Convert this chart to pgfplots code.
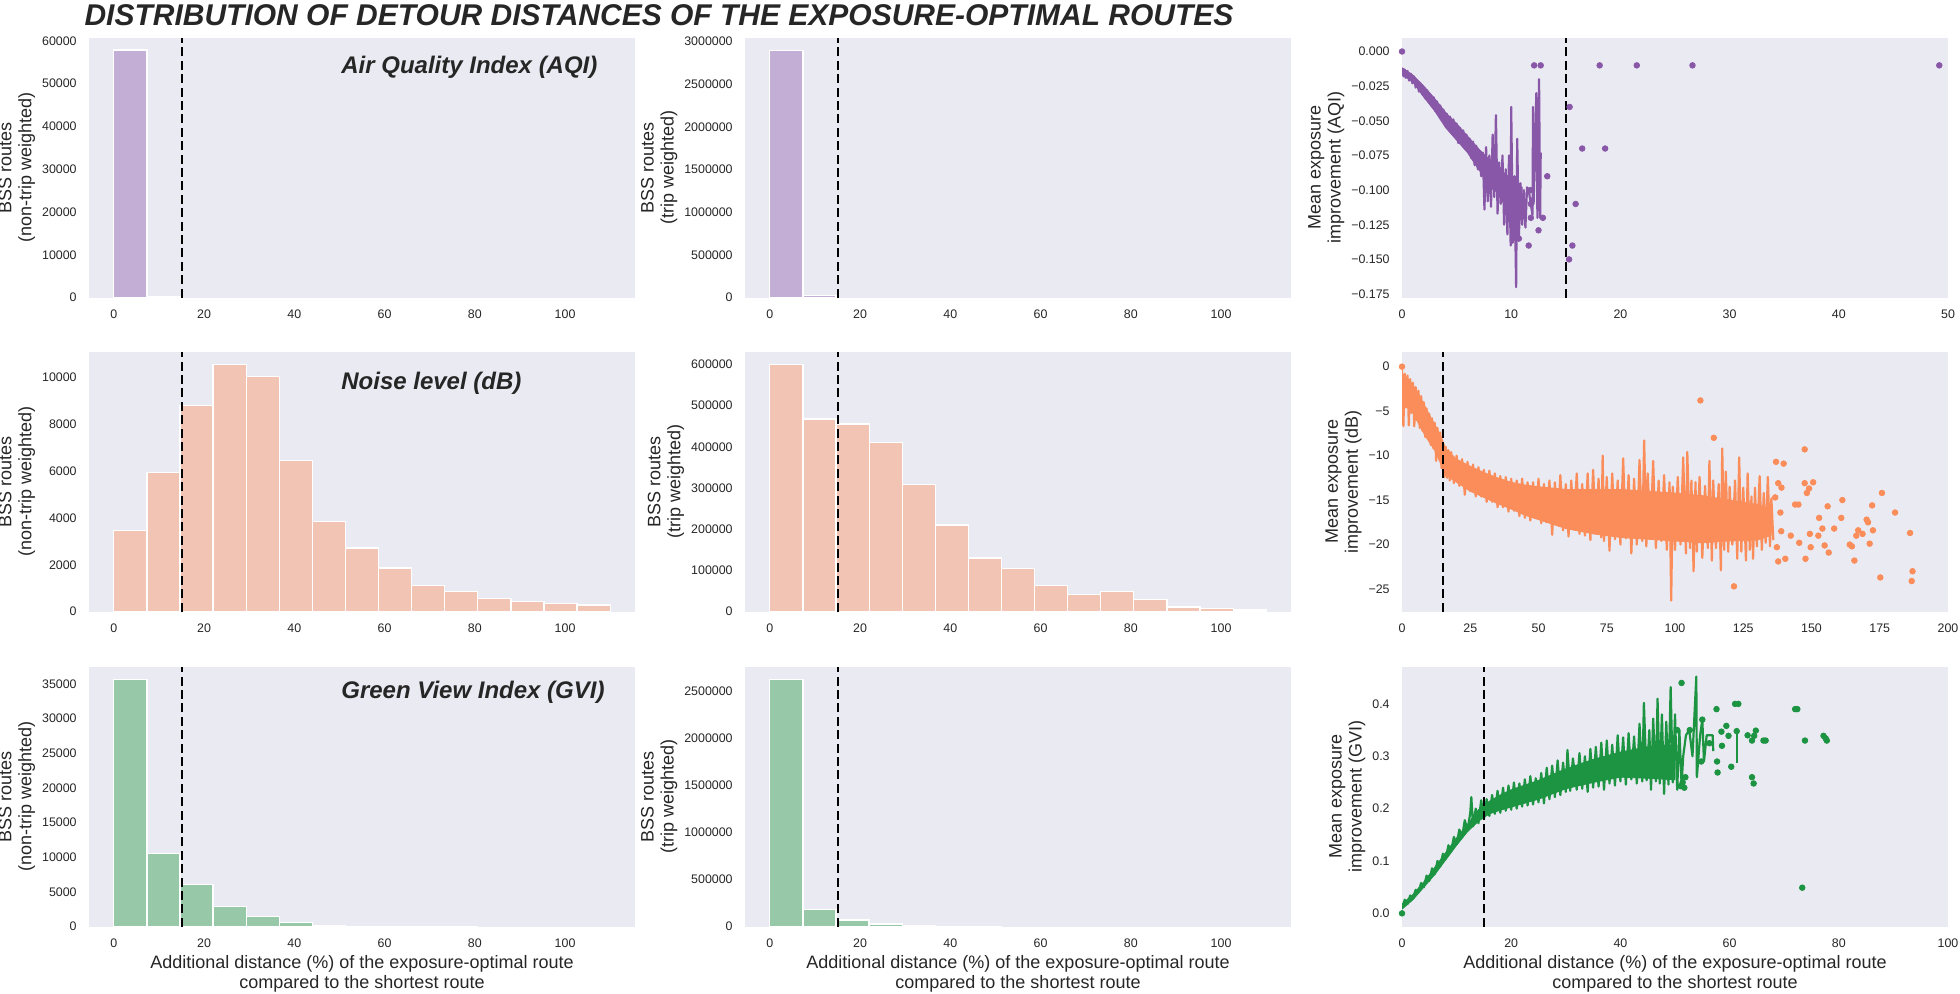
\documentclass[border=0pt]{standalone}
\usepackage{fontspec}
\setmainfont{Liberation Sans}
\usepackage{pgfplots}
\pgfplotsset{compat=1.18}

\definecolor{bg}{RGB}{234,234,242}
\definecolor{txt}{RGB}{38,38,38}
\definecolor{aqibar}{RGB}{195,174,214}
\definecolor{noisebar}{RGB}{242,196,180}
\definecolor{gvibar}{RGB}{151,201,169}
\definecolor{aqiline}{RGB}{137,87,168}
\definecolor{noiseline}{RGB}{250,141,90}
\definecolor{gviline}{RGB}{28,148,66}

\newcommand\ticksize{\fontsize{6.2}{7}\selectfont}
\newcommand\labelsize{\fontsize{9}{10}\selectfont}

\tikzset{annot/.style={anchor=base west, font=\fontsize{12}{14}\selectfont\bfseries\itshape, text=txt, inner sep=0pt}}

\pgfplotsset{
  panel/.style={
    scale only axis, width=273pt, height=130pt, anchor=north west,
    axis background/.style={fill=bg},
    axis line style={draw=none},
    major tick length=0pt,
    tick label style={font=\ticksize, color=txt, inner sep=0pt},
    yticklabel style={xshift=-6pt},
    xticklabel style={yshift=-6pt},
    label style={font=\labelsize, color=txt, align=center},
    scaled ticks=false,
    /pgf/number format/fixed,
    /pgf/number format/1000 sep={},
    /pgf/number format/assume math mode=true,
  },
  hist/.style={ybar, bar width=7.3333, bar shift=0pt, draw=white, line width=0.6pt, mark=none},
  vline/.style={black, line width=1pt, dash pattern=on 4.5pt off 2.2pt, mark=none},
  band/.style={line width=1.1pt, line join=round, mark=none},
  dots/.style={only marks, mark=*, mark size=1.4pt, mark options={draw=none}},
}

\begin{document}
\begin{tikzpicture}
\path[use as bounding box] (0,0) rectangle (980pt,-496.5pt);
\node[anchor=north, inner sep=0pt, font=\fontsize{15}{18}\selectfont\bfseries\itshape, text=txt] at (329.5pt,-2pt) {DISTRIBUTION OF DETOUR DISTANCES OF THE EXPOSURE-OPTIMAL ROUTES};

% ---------------- Row 1: AQI ----------------
\begin{axis}[panel, at={(44.5pt,-18.75pt)},
  xmin=-5.5, xmax=115.5, ymin=0, ymax=60790,
  xtick={0,20,...,100}, ytick={0,10000,...,60000},
  ylabel={BSS routes\\(non-trip weighted)}]
\addplot[hist, fill=aqibar] coordinates {(3.6667,57850) (11,250)};
\addplot[vline] coordinates {(15,0) (15,60790)};
\node[annot] at (rel axis cs:0.4615,0.86) {Air Quality Index (AQI)};
\end{axis}

\begin{axis}[panel, at={(372.5pt,-18.75pt)},
  xmin=-5.5, xmax=115.5, ymin=0, ymax=3046000,
  xtick={0,20,...,100}, ytick={0,500000,...,3000000},
  ylabel={BSS routes\\(trip weighted)}]
\addplot[hist, fill=aqibar] coordinates {(3.6667,2898000) (11,20000)};
\addplot[vline] coordinates {(15,0) (15,3046000)};
\end{axis}

\begin{axis}[panel, at={(701pt,-18.75pt)},
  xmin=0, xmax=50, ymin=-0.1775, ymax=0.0101,
  xtick={0,10,...,50},
  ytick={0,-0.025,-0.05,-0.075,-0.1,-0.125,-0.15,-0.175},
  yticklabels={0.000,−0.025,−0.050,−0.075,−0.100,−0.125,−0.150,−0.175},
  ylabel={Mean exposure\\improvement (AQI)}]
\addplot[fill=aqiline, draw=aqiline, line width=0.4pt, mark=none] coordinates {
(0.05,-0.012) (1,-0.017) (2,-0.025) (3,-0.034) (4,-0.044) (5,-0.052) (6,-0.061) (7,-0.070) (8,-0.078) (9,-0.085) (10,-0.092) (11,-0.098)
(11,-0.118) (10,-0.113) (9,-0.105) (8,-0.095) (7,-0.085) (6,-0.073) (5,-0.064) (4,-0.055) (3,-0.043) (2,-0.033) (1,-0.022) (0.05,-0.017)} -- cycle;
\addplot[band, aqiline] coordinates {
(0.05,-0.012) (0.15,-0.018) (0.25,-0.013) (0.35,-0.019) (0.5,-0.014) (0.65,-0.021) (0.8,-0.016) (0.95,-0.023)
(1.1,-0.018) (1.25,-0.026) (1.4,-0.021) (1.55,-0.029) (1.7,-0.023) (1.85,-0.031) (2.0,-0.026) (2.15,-0.034)
(2.3,-0.028) (2.45,-0.036) (2.6,-0.031) (2.75,-0.039) (2.9,-0.033) (3.05,-0.043) (3.2,-0.036) (3.35,-0.045)
(3.5,-0.039) (3.65,-0.048) (3.8,-0.042) (3.95,-0.051) (4.1,-0.045) (4.25,-0.053) (4.4,-0.047) (4.55,-0.057)
(4.7,-0.049) (4.85,-0.060) (5.0,-0.052) (5.15,-0.066) (5.3,-0.055) (5.45,-0.064) (5.6,-0.057) (5.75,-0.070)
(5.9,-0.060) (6.05,-0.072) (6.2,-0.063) (6.35,-0.077) (6.5,-0.065) (6.65,-0.082) (6.8,-0.068) (6.95,-0.085)
(7.1,-0.072) (7.25,-0.090) (7.4,-0.073) (7.55,-0.114) (7.7,-0.069) (7.85,-0.108) (8.0,-0.075) (8.15,-0.112)
(8.3,-0.060) (8.45,-0.105) (8.6,-0.046) (8.75,-0.117) (8.9,-0.080) (9.05,-0.110) (9.2,-0.075) (9.35,-0.125)
(9.5,-0.085) (9.65,-0.132) (9.8,-0.075) (9.95,-0.140) (10.0,-0.040) (10.15,-0.138) (10.3,-0.090) (10.45,-0.170)
(10.55,-0.063) (10.7,-0.135) (10.85,-0.095) (11.0,-0.125) (11.15,-0.100) (11.3,-0.127) (11.45,-0.098) (11.6,-0.100)
(11.95,-0.118) (12.0,-0.040) (12.05,-0.110) (12.3,-0.030) (12.4,-0.120) (12.55,-0.020) (12.65,-0.120) (12.7,-0.073)};
\addplot[dots, aqiline] coordinates {
(0,0) (10.7,-0.135) (11.6,-0.140) (11.8,-0.120) (11.8,-0.110) (11.75,-0.100) (12.5,-0.129) (12.9,-0.120) (13.3,-0.090)
(12.1,-0.010) (12.7,-0.010) (15.35,-0.040) (15.3,-0.150) (15.6,-0.140) (15.9,-0.110) (16.5,-0.070) (18.1,-0.010)
(18.6,-0.070) (21.5,-0.010) (26.6,-0.010) (49.2,-0.010)};
\addplot[vline] coordinates {(15,-0.1775) (15,0.0101)};
\end{axis}

% ---------------- Row 2: Noise ----------------
\begin{axis}[panel, at={(44.5pt,-175.85pt)},
  xmin=-5.5, xmax=115.5, ymin=0, ymax=11100,
  xtick={0,20,...,100}, ytick={0,2000,...,10000},
  ylabel={BSS routes\\(non-trip weighted)}]
\addplot[hist, fill=noisebar] coordinates {(3.6667,3465) (11,5941) (18.3333,8798) (25.6667,10566) (33,10057) (40.3333,6464) (47.6667,3861) (55,2716) (62.3333,1867) (69.6667,1132) (77,849) (84.3333,566) (91.6667,453) (99,354) (106.3333,283)};
\addplot[vline] coordinates {(15,0) (15,11100)};
\node[annot] at (rel axis cs:0.4615,0.853) {Noise level (dB)};
\end{axis}

\begin{axis}[panel, at={(372.5pt,-175.85pt)},
  xmin=-5.5, xmax=115.5, ymin=0, ymax=630500,
  xtick={0,20,...,100}, ytick={0,100000,...,600000},
  ylabel={BSS routes\\(trip weighted)}]
\addplot[hist, fill=noisebar] coordinates {(3.6667,600000) (11,467500) (18.3333,455400) (25.6667,409600) (33,308400) (40.3333,210400) (47.6667,130100) (55,104400) (62.3333,62650) (69.6667,41770) (77,48190) (84.3333,29720) (91.6667,11240) (99,7230) (106.3333,4020)};
\addplot[vline] coordinates {(15,0) (15,630500)};
\end{axis}

\begin{axis}[panel, at={(701pt,-175.85pt)},
  xmin=0, xmax=200, ymin=-27.55, ymax=1.68,
  xtick={0,25,...,200},
  ytick={0,-5,-10,-15,-20,-25},
  yticklabels={0,−5,−10,−15,−20,−25},
  ylabel={Mean exposure\\improvement (dB)}]
\addplot[fill=noiseline, draw=noiseline, line width=0.4pt, mark=none] coordinates {
(0,-0.8) (2,-1.3) (4,-2.1) (6,-3.0) (8,-4.2) (10,-5.4) (12,-6.5) (14,-7.6) (16,-9.2) (20,-10.4) (25,-11.2) (30,-11.9) (35,-12.5) (40,-13.0) (45,-13.3) (50,-13.5) (60,-13.8) (70,-13.8) (80,-13.8) (90,-14) (100,-14.2) (110,-14.5) (120,-15) (130,-15.5) (135,-16)
(135,-19) (130,-19.5) (120,-19.6) (110,-19.8) (100,-19.6) (90,-19.4) (80,-19.2) (70,-18.8) (60,-18.2) (50,-17.2) (45,-16.7) (40,-16.0) (35,-15.4) (30,-14.7) (25,-14.0) (20,-13.0) (16,-12.2) (14,-10.8) (12,-9.4) (10,-8.5) (8,-7.5) (6,-6.4) (4,-5.2) (2,-4.6) (0,-4.3)} -- cycle;
\addplot[band, noiseline] coordinates {
(0,-0.4) (0.5,-6.7) (1,-0.8) (1.5,-4.6) (2,-1.0) (2.5,-6.6) (3,-1.4) (3.5,-5.2) (4,-1.8) (4.5,-6.7) (5,-2.3) (5.5,-6.0)
(6,-2.7) (6.5,-6.9) (7,-3.3) (7.5,-7.2) (8,-4.0) (8.5,-7.9) (9,-4.7) (9.5,-8.1) (10,-5.3) (10.5,-8.8) (11,-5.8) (11.5,-9.2)
(12,-6.3) (12.5,-10.6) (13,-6.9) (13.5,-10.2) (14,-7.4) (14.5,-11.4) (15,-8.6) (15.5,-12.4) (16,-9.0) (16.5,-12.5) (17,-9.4) (17.5,-12.8)
(18,-9.6) (19,-13.1) (20,-10.0) (21,-13.4) (22,-10.4) (23,-14.4) (24,-10.7) (25,-14.0) (26,-11.0) (27,-14.6) (28,-11.3) (29,-14.6)
(30,-11.6) (31,-15.2) (32,-11.7) (33,-15.2) (34,-12.0) (35,-15.8) (36,-12.3) (37,-15.8) (38,-12.4) (39,-16.3) (40,-12.6) (41,-16.2)
(42,-12.8) (43,-16.8) (44,-12.6) (45,-17.0) (46,-13.0) (47,-17.3) (48,-13.0) (49,-17.0) (50,-12.6) (51,-17.6) (52,-13.2) (53,-17.5)
(54,-12.8) (55,-18.9) (56,-13.0) (57,-17.8) (58,-12.2) (59,-18.4) (60,-13.2) (61,-19.1) (62,-12.8) (63,-18.2) (64,-12.0) (65,-18.8)
(66,-13.2) (67,-19.0) (68,-12.0) (69,-19.5) (70,-11.6) (71,-18.6) (72,-12.6) (73,-19.2) (73.5,-10.0) (74,-19.6) (75,-12.4) (76,-20.7)
(77,-12.0) (78,-19.4) (79,-12.8) (80,-20.0) (81,-10.3) (82,-19.3) (83,-12.2) (84,-21.0) (85,-12.6) (86,-20.0) (87,-10.5) (88,-19.6)
(88.7,-8.3) (89.5,-20.2) (90,-12.0) (91,-19.0) (92,-10.6) (93,-20.4) (94,-12.8) (95,-19.6) (96,-12.2) (97,-20.6) (98,-13.0) (98.6,-26.3)
(99.2,-13.5) (100,-20.6) (101,-12.4) (102,-20.0) (103,-10.2) (104,-21.0) (104.5,-9.6) (105.5,-20.4) (106,-12.8) (106.8,-23.0) (107.5,-13.0) (108,-20.8)
(109,-12.4) (110,-21.5) (111,-13.4) (112,-20.4) (112.6,-10.6) (113.5,-21.8) (114,-12.8) (115,-20.4) (116,-13.2) (116.8,-22.9) (117.3,-9.2) (118,-20.6)
(118.6,-11.8) (119.5,-20.8) (120,-13.5) (121,-20.0) (122,-12.8) (122.8,-21.6) (123.5,-10.2) (124.3,-20.8) (125,-13.6) (126,-21.8) (126.6,-12.0) (127.4,-20.6)
(128,-14.6) (128.6,-21.6) (129.3,-13.6) (130,-20.2) (131,-12.3) (131.8,-20.6) (132.5,-14.2) (133.2,-19.8) (134,-12.4) (134.8,-20.2) (135.3,-14.8) (136,-19.5)};
\addplot[dots, noiseline] coordinates {
(0,0) (109.3,-3.8) (114.2,-8.0) (121.6,-24.7)
(137,-10.7) (139.8,-10.9) (137.8,-13.1) (139,-13.6) (136.7,-14.7) (138.6,-16.4) (138.9,-18.5) (137.3,-20.3) (137.8,-21.9) (140.4,-21.6)
(142.4,-19) (144,-15.5) (145.2,-15.5) (145.5,-19.8) (147.5,-13.1) (147.5,-9.3) (148.3,-14.2) (147.8,-21.6) (149.1,-13.7) (150.6,-13)
(149.4,-18.8) (149.7,-20.3) (152.5,-19) (152.8,-17) (154,-18.2) (154.8,-20.1) (155.9,-15.7) (156.3,-20.9) (158.3,-18.2) (160.9,-17)
(161.3,-15) (164,-20) (164.8,-20.2) (165.7,-21.8) (166.4,-19) (167.1,-18.4) (168.7,-18.8) (170.2,-17.2) (170.7,-17.5) (171.3,-19.9)
(172.2,-15.6) (172.5,-18.4) (175.2,-23.7) (175.8,-14.2) (180.6,-16.4) (186.1,-18.7) (186.7,-24.1) (187,-23)};
\addplot[vline] coordinates {(15,-27.55) (15,1.68)};
\end{axis}

% ---------------- Row 3: GVI ----------------
\begin{axis}[panel, at={(44.5pt,-333.35pt)},
  xmin=-5.5, xmax=115.5, ymin=0, ymax=37500,
  xtick={0,20,...,100}, ytick={0,5000,...,35000},
  ylabel={BSS routes\\(non-trip weighted)},
  xlabel={Additional distance (\%) of the exposure-optimal route\\compared to the shortest route}]
\addplot[hist, fill=gvibar] coordinates {(3.6667,35707) (11,10612) (18.3333,6119) (25.6667,2964) (33,1434) (40.3333,621) (47.6667,150) (55,60) (62.3333,25) (69.6667,10) (77,5)};
\addplot[vline] coordinates {(15,0) (15,37500)};
\node[annot] at (rel axis cs:0.4615,0.879) {Green View Index (GVI)};
\end{axis}

\begin{axis}[panel, at={(372.5pt,-333.35pt)},
  xmin=-5.5, xmax=115.5, ymin=0, ymax=2763000,
  xtick={0,20,...,100}, ytick={0,500000,...,2500000},
  ylabel={BSS routes\\(trip weighted)},
  xlabel={Additional distance (\%) of the exposure-optimal route\\compared to the shortest route}]
\addplot[hist, fill=gvibar] coordinates {(3.6667,2630000) (11,183000) (18.3333,70400) (25.6667,28000) (33,12000) (40.3333,4000) (47.6667,1500)};
\addplot[vline] coordinates {(15,0) (15,2763000)};
\end{axis}

\begin{axis}[panel, at={(701pt,-333.35pt)},
  xmin=0, xmax=100, ymin=-0.0255, ymax=0.471,
  xtick={0,20,...,100},
  ytick={0,0.1,0.2,0.3,0.4},
  yticklabels={0.0,0.1,0.2,0.3,0.4},
  ylabel={Mean exposure\\improvement (GVI)},
  xlabel={Additional distance (\%) of the exposure-optimal route\\compared to the shortest route}]
\addplot[fill=gviline, draw=gviline, line width=0.4pt, mark=none] coordinates {
(0,0.018) (2,0.036) (4,0.060) (6,0.088) (8,0.116) (10,0.144) (12,0.170) (14,0.198) (16,0.214) (18,0.226) (20,0.236) (25,0.254) (30,0.276) (35,0.294) (40,0.308) (45,0.318) (50,0.322)
(50,0.255) (45,0.258) (40,0.260) (35,0.250) (30,0.238) (25,0.218) (20,0.203) (18,0.197) (16,0.190) (14,0.176) (12,0.156) (10,0.130) (8,0.102) (6,0.074) (4,0.050) (2,0.026) (0,0.008)} -- cycle;
\addplot[band, gviline] coordinates {
(0,0.010) (0.5,0.026) (1.0,0.018) (1.5,0.034) (2.0,0.028) (2.5,0.045) (3.0,0.040) (3.5,0.058) (4.0,0.050) (4.5,0.072)
(5.0,0.062) (5.5,0.086) (6.0,0.075) (6.5,0.100) (7.0,0.090) (7.5,0.114) (8.0,0.104) (8.5,0.130) (9.0,0.118) (9.5,0.146)
(10.0,0.132) (10.5,0.160) (11.0,0.146) (11.5,0.178) (12.0,0.158) (12.5,0.192) (12.7,0.222) (13.0,0.166) (13.5,0.200) (14.0,0.172)
(14.5,0.216) (15.0,0.180) (15.5,0.218) (16.0,0.186) (16.5,0.226) (17,0.190) (17.5,0.234) (18,0.192) (18.5,0.240) (19,0.196)
(19.5,0.244) (20,0.198) (20.5,0.250) (21,0.200) (21.5,0.248) (22,0.204) (22.5,0.256) (23,0.206) (23.5,0.262) (24,0.208)
(24.5,0.258) (25,0.212) (25.5,0.268) (26,0.210) (26.5,0.278) (27,0.218) (27.5,0.282) (28,0.222) (28.5,0.292) (29,0.226)
(29.5,0.288) (30,0.232) (30.3,0.312) (30.8,0.234) (31.3,0.296) (32,0.236) (32.5,0.306) (33,0.238) (33.5,0.300) (34,0.232)
(34.5,0.314) (35,0.240) (35.5,0.318) (36,0.242) (36.5,0.326) (37,0.236) (37.5,0.330) (38,0.248) (38.5,0.322) (39,0.244)
(39.5,0.340) (40,0.252) (40.5,0.336) (41,0.246) (41.5,0.344) (42,0.256) (42.5,0.338) (43,0.248) (43.5,0.362) (44,0.252)
(44.3,0.402) (44.8,0.254) (45.3,0.350) (45.6,0.236) (46,0.372) (46.5,0.252) (46.8,0.410) (47.2,0.248) (47.6,0.380) (48,0.228)
(48.4,0.366) (48.8,0.246) (49.2,0.432) (49.6,0.250) (50.0,0.380) (50.4,0.236) (50.8,0.350) (51.2,0.246) (51.5,0.300) (52.0,0.340)
(52.6,0.350) (53.2,0.300) (53.9,0.452) (54.0,0.260) (54.6,0.340) (55.0,0.370) (55.3,0.290) (55.8,0.340) (56.9,0.340) (57.0,0.310)};
\addplot[band, gviline] coordinates {(61.3,0.352) (61.3,0.288)};
\addplot[dots, gviline] coordinates {
(0,0) (51.2,0.44) (51.4,0.25) (51.7,0.24) (51.9,0.26) (51.0,0.243) (50.4,0.35) (52.7,0.35) (54.8,0.29) (55.0,0.37) (56.3,0.325)
(57.7,0.29) (57.8,0.269) (57.6,0.39) (58.5,0.347) (58.6,0.32) (59.4,0.358) (59.8,0.339) (60.3,0.28) (61.0,0.40) (61.6,0.40)
(61.3,0.348) (63.3,0.34) (64.1,0.33) (64.8,0.349) (64.5,0.339) (64.1,0.26) (64.4,0.248) (66.2,0.33) (66.6,0.33)
(72.0,0.39) (72.4,0.39) (73.8,0.33) (73.3,0.049) (77.2,0.339) (77.6,0.334) (77.8,0.33)};
\addplot[vline] coordinates {(15,-0.0255) (15,0.471)};
\end{axis}
\end{tikzpicture}
\end{document}
